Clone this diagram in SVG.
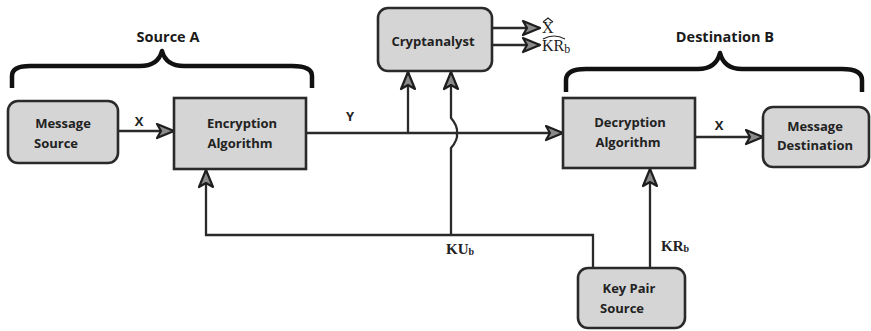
<svg xmlns="http://www.w3.org/2000/svg" width="871" height="331" viewBox="0 0 871 331">
<style>
.box{fill:#d5d5d5;stroke:#2a2a2a;stroke-width:2.6}
.lbl{font-family:"Open Sans","Liberation Sans",sans-serif;font-weight:700;font-size:13px;fill:#222;text-anchor:middle}
.ttl{font-family:"Open Sans","Liberation Sans",sans-serif;font-weight:700;font-size:14.5px;fill:#1a1a1a;text-anchor:middle}
.wire{fill:none;stroke:#2a2a2a;stroke-width:2.3}
.brace{fill:none;stroke:#111;stroke-width:4.5;stroke-linecap:butt;stroke-linejoin:round}
.ser{font-family:"Liberation Serif",serif;font-weight:700;font-size:15px;fill:#222}
.ser2{font-family:"Liberation Serif",serif;font-size:16px;fill:#222}
</style>
<defs>
<marker id="ah" markerUnits="userSpaceOnUse" markerWidth="22" markerHeight="18" refX="19" refY="9" orient="auto">
<path d="M2,2 L19,9 L2,16 L6,9 Z" fill="#8a8a8a" stroke="#1e1e1e" stroke-width="2.2" stroke-linejoin="round"/>
</marker>
</defs>
<rect width="871" height="331" fill="#ffffff"/>

<g id="braces">
<path class="brace" d="M12,88 L12,76 Q12,66 30,66 L140,66 Q158,66 162,51 Q166,66 184,66 L292,66 Q312,66 312,76 L312,88"/>
<path class="brace" d="M566,92 L566,80 Q566,69 586,69 L698,69 Q716,69 720,53 Q724,69 742,69 L842,69 Q862,69 862,80 L862,92"/>
</g>
<text class="ttl" x="168" y="42">Source A</text>
<text class="ttl" x="725" y="42">Destination B</text>

<g id="connectors">
<path class="wire" d="M118,131 L174,131" marker-end="url(#ah)"/>
<path class="wire" d="M306,133 L563,133" marker-end="url(#ah)"/>
<path class="wire" d="M408,133 L408,72" marker-end="url(#ah)"/>
<path class="wire" d="M593,268 L593,235 L206,235 L206,170" marker-end="url(#ah)"/>
<path class="wire" d="M451,235 L451,148 Q458,140 457,133 Q458,126 451,118 L451,72" marker-end="url(#ah)"/>
<path class="wire" d="M650,268 L650,169" marker-end="url(#ah)"/>
<path class="wire" d="M695,137 L763,137" marker-end="url(#ah)"/>
<path class="wire" d="M492,28 L540,28" marker-end="url(#ah)"/>
<path class="wire" d="M492,45 L540,45" marker-end="url(#ah)"/>
</g>

<g id="msgsrc">
<rect class="box" x="8" y="101" width="110" height="62" rx="10"/>
<text class="lbl" x="63" y="128">Message</text>
<text class="lbl" x="56" y="148">Source</text>
</g>
<g id="enc">
<rect class="box" x="174" y="98" width="132" height="71"/>
<text class="lbl" x="242" y="128">Encryption</text>
<text class="lbl" x="240" y="148">Algorithm</text>
</g>
<g id="crypt">
<rect class="box" x="378" y="8" width="114" height="63" rx="10"/>
<text class="lbl" x="433" y="46">Cryptanalyst</text>
</g>
<g id="dec">
<rect class="box" x="563" y="98" width="132" height="70"/>
<text class="lbl" x="630" y="127">Decryption</text>
<text class="lbl" x="628" y="147">Algorithm</text>
</g>
<g id="msgdst">
<rect class="box" x="763" y="107" width="106" height="60" rx="10"/>
<text class="lbl" x="815" y="131">Message</text>
<text class="lbl" x="815" y="150">Destination</text>
</g>
<g id="keypair">
<rect class="box" x="578" y="268" width="107" height="60" rx="10"/>
<text class="lbl" x="629" y="293">Key Pair</text>
<text class="lbl" x="622" y="313">Source</text>
</g>

<text class="lbl" x="139" y="126">X</text>
<text class="lbl" x="350" y="121">Y</text>
<text class="lbl" x="719" y="130">X</text>
<text class="ser" x="446" y="254">KU<tspan font-size="10" dy="1">b</tspan></text>
<text class="ser" x="661" y="251">KR<tspan font-size="10" dy="1">b</tspan></text>
<text class="ser2" x="542" y="33">X</text>
<path d="M543,22 L548,18 L553,22" fill="none" stroke="#222" stroke-width="1.1"/>
<text class="ser2" x="542" y="51">KR<tspan font-size="12" dy="2">b</tspan></text>
<path d="M543,39 Q554,33 565,39" fill="none" stroke="#222" stroke-width="1.1"/>
</svg>
